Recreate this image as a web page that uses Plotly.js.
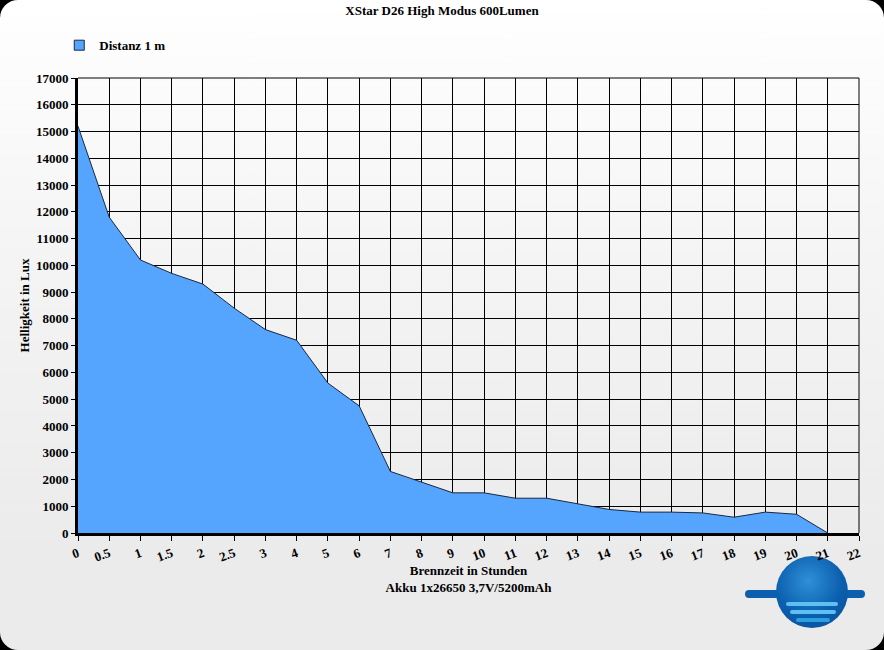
<!DOCTYPE html>
<html>
<head>
<meta charset="utf-8">
<script src="https://cdn.plot.ly/plotly-3.0.1.min.js"></script>
<style>
  html, body { margin:0; padding:0; background:#000; }
  #frame { position:absolute; left:0; top:0; width:884px; height:650px; border-radius:18px;
           background: linear-gradient(to bottom, #ffffff 0%, #f4f4f4 40%, #ebebeb 85%, #ebebeb 100%); overflow:hidden; }
  #chart { position:absolute; left:0; top:0; width:884px; height:650px; }
  #logo { position:absolute; left:776px; top:556px; width:72px; height:72px; border-radius:50%;
          background: radial-gradient(circle at 45% 35%, #2f8fd8 0%, #0b5fae 55%, #0a4c94 100%); }
  #logo .w { position:absolute; left:10px; height:4px; background:#5ec0f0; border-radius:2px; }
  #fin { position:absolute; left:745px; top:590px; width:120px; height:8px; background:#0b5fae; border-radius:4px; }
</style>
</head>
<body>
<div id="frame">
  <div id="fin"></div>
  <div id="logo">
    <div class="w" style="top:46px;width:52px;"></div>
    <div class="w" style="top:54px;width:46px;left:14px;"></div>
    <div class="w" style="top:62px;width:34px;left:20px;background:#2aa0e0;"></div>
  </div>
  <div id="chart"></div>
</div>
<script>
const categories = ["0","0.5","1","1.5","2","2.5","3","4","5","6","7","8","9","10","11","12","13","14","15","16","17","18","19","20","21","22"];
const luxValues = [15200,11800,10200,9700,9300,8400,7600,7200,5600,4750,2300,1900,1500,1500,1300,1300,1080,880,780,780,750,590,780,700,0,null];
const seriesName = "Distanz 1 m";
const chartTitle = "XStar D26 High Modus 600Lumen";
const xTitle = "Brennzeit in Stunden<br>Akku 1x26650 3,7V/5200mAh";
const yTitle = "Helligkeit in Lux";

const fam = "Liberation Serif, Times New Roman, serif";

const trace = {
  x: categories, y: luxValues, name: seriesName, type:"scatter", mode:"lines",
  fill:"tozeroy", fillcolor:"#55a5ff",
  line:{color:"#1a2840", width:1}, connectgaps:false, showlegend:false
};
const legendTrace = {
  x:[null], y:[null], name: seriesName, type:"scatter", mode:"markers",
  marker:{symbol:"square", size:10, color:"#55a5ff", line:{color:"#1a2840", width:1}}, showlegend:true
};

const layout = {
  width:884, height:650,
  paper_bgcolor:"rgba(0,0,0,0)", plot_bgcolor:"rgba(0,0,0,0)",
  margin:{l:78, r:25, t:78, b:117},
  font:{family:fam, color:"#000", size:12},
  title:{text:"<b>"+chartTitle+"</b>", x:0.5, xanchor:"center", y:0.991, yanchor:"top", font:{family:fam, size:13, color:"#000"}},
  showlegend:true,
  legend:{x:-0.024, xanchor:"left", y:1.072, yanchor:"middle", orientation:"h", bgcolor:"rgba(0,0,0,0)",
          font:{family:fam, size:13, color:"#000", weight:"bold"}, itemwidth:30},
  xaxis:{type:"category", range:[0,25], showgrid:true, gridcolor:"#000", gridwidth:1,
         showline:true, linecolor:"#000", linewidth:3, ticks:"outside", ticklen:5, tickcolor:"#000",
         tickangle:-20, tickfont:{family:fam, size:13, color:"#000", weight:"bold"},
         zeroline:false,
         title:{text:"<b>"+xTitle+"</b>", standoff:0, font:{family:fam, size:13, color:"#000"}}},
  yaxis:{range:[0,17000], dtick:1000, tickformat:"d", showgrid:true, gridcolor:"#000", gridwidth:1,
         showline:true, linecolor:"#000", linewidth:3, ticks:"outside", ticklen:4, tickcolor:"#000",
         tickfont:{family:fam, size:13, color:"#000", weight:"bold"}, zeroline:false,
         title:{text:"<b>"+yTitle+"</b>", standoff:4, font:{family:fam, size:13, color:"#000"}}},
  shapes:[
    {type:"line", xref:"paper", yref:"paper", x0:1, x1:1, y0:0, y1:1, line:{color:"#000", width:1}},
    {type:"line", xref:"paper", yref:"paper", x0:0, x1:1, y0:1, y1:1, line:{color:"#000", width:1}}
  ]
};

Plotly.newPlot("chart", [trace, legendTrace], layout, {displayModeBar:false, staticPlot:true});
</script>
</body>
</html>
